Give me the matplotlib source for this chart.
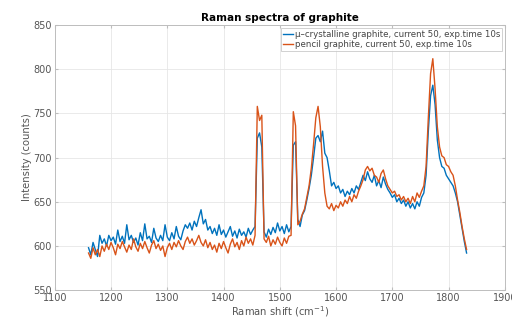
import numpy as np
import matplotlib
matplotlib.use("Agg")
import matplotlib.pyplot as plt

plt.rcParams['font.family'] = ['DejaVu Sans']

x_start = 1160
x_step = 4

mu_crystalline = [
    598, 590, 604, 596, 588, 612, 603, 608, 600, 612,
    606, 610, 602, 618, 605, 611, 603, 624, 607, 612,
    604, 609, 601, 615, 606, 625, 608, 611, 604, 620,
    609, 605, 612, 606, 624, 610, 606, 615, 608, 622,
    611, 607, 617, 624, 620, 626, 618, 628, 622, 632,
    641, 625, 630, 618, 622, 614, 620, 612, 624, 613,
    618, 610, 616, 622, 611, 617, 609, 619, 612, 616,
    610, 620, 613, 618, 622, 722, 728, 712, 616, 610,
    619, 613, 621, 615, 626, 617, 622, 614, 624, 616,
    622, 714, 718, 630, 622, 635, 640, 652, 665, 680,
    700, 722, 725, 718, 730, 705, 700, 685, 668, 672,
    665, 668, 660, 664, 656, 662, 658, 665, 660, 668,
    664, 672, 680, 674, 684, 676, 672, 680, 668, 674,
    666, 678, 670, 664, 660, 655, 658, 650, 654, 648,
    652, 645, 650, 643, 648, 642, 650, 645, 655, 660,
    680, 730, 770, 782, 760, 720, 700, 690, 688, 680,
    676, 672, 668, 660, 650, 635, 620, 605, 592,
]

pencil = [
    592, 586, 598, 590, 596, 588, 600, 594, 602, 596,
    604, 598, 590, 602, 597, 605, 599, 593, 601, 596,
    608, 599, 594, 603, 597, 605, 598, 592, 601, 606,
    597, 602, 595, 600, 588, 598, 603, 596, 604, 599,
    606, 600, 596, 605, 610, 603, 608, 601, 606, 612,
    604, 600, 607, 598, 604, 596, 601, 593, 603, 597,
    605, 598, 592, 602, 608, 599, 604, 596, 606, 600,
    610, 603, 608, 601, 612, 758, 742, 748, 608, 604,
    611, 600, 607, 602, 610, 604, 600, 609, 603, 611,
    612, 752, 736, 624, 628, 636, 642, 655, 668, 688,
    715, 745, 758, 735, 690, 660, 645, 642, 648, 640,
    646, 643, 650, 645, 652, 648, 656, 650, 658, 654,
    662, 668, 675, 686, 690, 685, 688, 680, 678, 672,
    682, 686, 676, 668, 664, 660, 662, 656, 658, 652,
    656, 650, 654, 648, 656, 650, 660, 655, 662, 668,
    690, 745, 795, 812, 778, 735, 712, 702, 700, 692,
    690, 684, 680, 668, 652, 638, 622, 608, 596,
]

labels = ["\u03bc\u2013crystalline graphite, current 50, exp.time 10s",
          "pencil graphite, current 50, exp.time 10s"]
colors = ["#0072BD", "#D95319"]

x_mu = x_start + x_step * np.arange(len(mu_crystalline))
x_pe = x_start + x_step * np.arange(len(pencil))

fig = plt.figure(figsize=(5.12, 3.22), dpi=100)
ax = fig.add_axes([0.107, 0.099, 0.879, 0.823])

ax.plot(x_mu, mu_crystalline, color=colors[0], lw=1.0, label=labels[0])
ax.plot(x_pe, pencil, color=colors[1], lw=1.0, label=labels[1])

ax.set_xlim(1100, 1900)
ax.set_ylim(550, 850)
ax.set_xticks(np.arange(1100, 1901, 100))
ax.set_xticklabels([str(v) for v in range(1100, 1901, 100)])
ax.set_yticks(np.arange(550, 851, 50))

ax.grid(True, color="#e6e6e6", lw=0.6)
ax.set_axisbelow(True)
for s in ax.spines.values():
    s.set_color("#bdbdbd")
    s.set_linewidth(0.7)
ax.tick_params(direction="in", length=2.5, color="#bdbdbd", labelsize=7,
               labelcolor="#555555", top=True, right=True, pad=2)

ax.set_title("Raman spectra of graphite", fontsize=7.5, fontweight="bold", pad=3)
ax.set_xlabel("Raman shift (cm$^{-1}$)", fontsize=7.2, color="#555555", labelpad=1)
ax.set_ylabel("Intensity (counts)", fontsize=7.2, color="#555555", labelpad=1)

leg = ax.legend(loc="upper right", fontsize=6.2, handlelength=1.2, handletextpad=0.2,
                borderaxespad=0.3, borderpad=0.25, labelspacing=0.1,
                frameon=True, fancybox=False, edgecolor="#bdbdbd")
leg.get_frame().set_linewidth(0.6)
for t in leg.get_texts():
    t.set_color("#444444")

fig.savefig("out.png", dpi=100)
